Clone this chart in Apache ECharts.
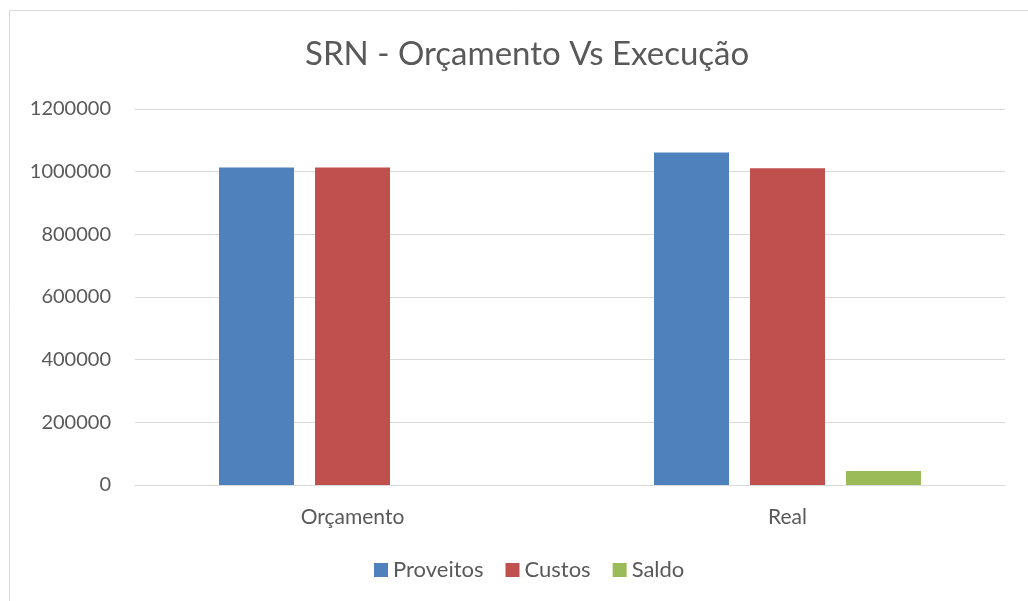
<!DOCTYPE html>
<html>
<head>
<meta charset="utf-8">
<script src="https://cdn.jsdelivr.net/npm/echarts@6/dist/echarts.min.js"></script>
<style>
html,body{margin:0;padding:0;background:#fff;}
#container1{width:1028px;height:601px;}
</style>
</head>
<body>
<div id="container1"></div>
<script>
var categories = ['Orçamento', 'Real'];
var proveitos = [1013000, 1061000];
var custos = [1013000, 1011000];
var saldo = [0, 45000];
var yTicks = [0, 200000, 400000, 600000, 800000, 1000000, 1200000];

var myChart = echarts.init(document.getElementById('container1'));
var font = 'Lato, "Open Sans", sans-serif';
var option = {
    backgroundColor: '#fff',
    color: ['#4f81bd', '#c0504d', '#9bbb59'],
    textStyle: {fontFamily: font},
    graphic: [{
        type: 'rect',
        shape: {x: 9.5, y: 10.5, width: 1100, height: 700},
        style: {fill: 'none', stroke: '#d9d9d9', lineWidth: 1},
        silent: true
    }],
    title: {
        text: 'SRN - Orçamento Vs Execução',
        left: 300,
        top: 33,
        textStyle: {fontSize: 33, fontWeight: 'normal', color: '#595959', fontFamily: font}
    },
    legend: {
        bottom: 15,
        left: 369,
        itemWidth: 14,
        itemHeight: 14,
        itemGap: 22,
        icon: 'rect',
        textStyle: {fontSize: 22, color: '#595959', fontFamily: font},
        data: ['Proveitos', 'Custos', 'Saldo']
    },
    grid: {left: 135, right: 23, top: 109, bottom: 116},
    xAxis: {
        type: 'category',
        data: categories,
        axisLine: {lineStyle: {color: '#d9d9d9', width: 1}},
        axisTick: {show: false},
        axisLabel: {fontSize: 21, color: '#595959', margin: 22}
    },
    yAxis: {
        type: 'value',
        min: yTicks[0],
        max: yTicks[yTicks.length - 1],
        interval: 200000,
        axisLine: {show: false},
        axisTick: {show: false},
        splitLine: {lineStyle: {color: '#d9d9d9', width: 1}},
        axisLabel: {fontSize: 20, color: '#595959', margin: 24, formatter: function (v) { return String(v); }}
    },
    series: [
        {name: 'Proveitos', type: 'bar', data: proveitos, barWidth: 75, barGap: '28%'},
        {name: 'Custos', type: 'bar', data: custos, barWidth: 75, barGap: '28%'},
        {name: 'Saldo', type: 'bar', data: saldo, barWidth: 75, barGap: '28%'}
    ]
};
myChart.setOption(option, true);
</script>
</body>
</html>
